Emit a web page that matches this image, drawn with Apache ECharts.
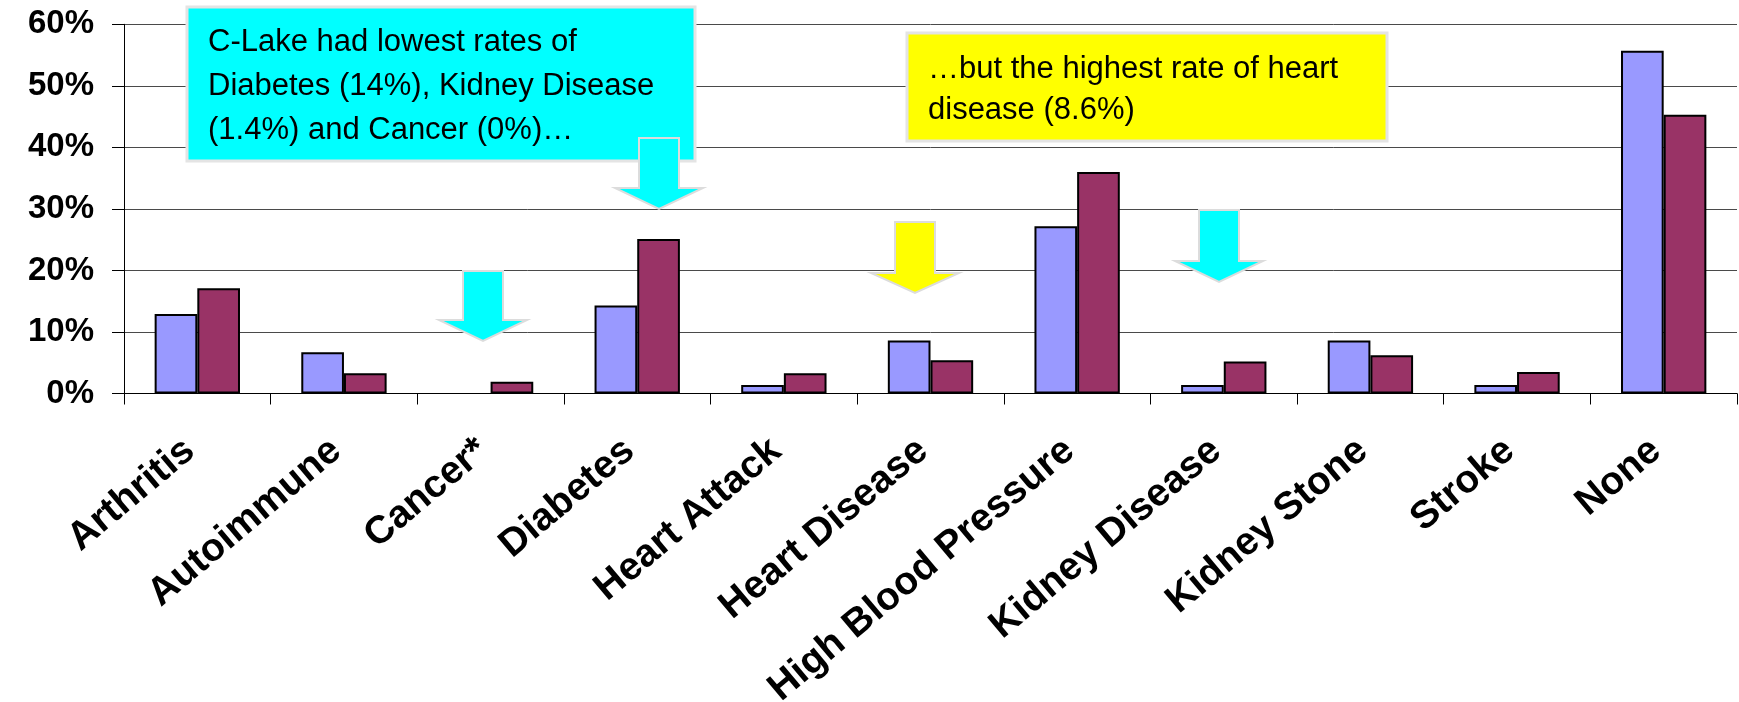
<!DOCTYPE html>
<html>
<head>
<meta charset="utf-8">
<title>Health conditions by group</title>
<script src="https://cdn.jsdelivr.net/npm/echarts@6/dist/echarts.min.js"></script>
<style>
  html, body { margin: 0; padding: 0; background: #ffffff; }
  #chart { width: 1739px; height: 702px; }
</style>
</head>
<body>
<div id="chart"></div>
<script>
// Conditions along the x axis
const categories = ['Arthritis', 'Autoimmune', 'Cancer*', 'Diabetes', 'Heart Attack',
  'Heart Disease', 'High Blood Pressure', 'Kidney Disease', 'Kidney Stone', 'Stroke', 'None'];

// Percent of respondents reporting each condition
const cLakeValues = [12.9, 6.7, 0, 14.3, 1.4, 8.6, 27.2, 1.4, 8.6, 1.4, 55.7];
const comparisonValues = [17.1, 3.3, 1.9, 25.1, 3.3, 5.4, 36.0, 5.2, 6.2, 3.5, 45.3];

// Value axis ticks
const yTicks = [0, 10, 20, 30, 40, 50, 60];

// Callout texts
const lowNote = ['C-Lake had lowest rates of', 'Diabetes (14%), Kidney Disease', '(1.4%) and Cancer (0%)\u2026'];
const highNote = ['\u2026but the highest rate of heart', 'disease (8.6%)'];

const chart = echarts.init(document.getElementById('chart'), null, { renderer: 'canvas' });

// Zero-height bars get no outline so nothing shows above the axis
function barData(values) {
  return values.map(v => (v === 0 ? { value: v, itemStyle: { borderWidth: 0 } } : v));
}

// Down-pointing block arrow: shaft from top to head base, triangular head to tip
function arrow(cx, top, base, tip, fill) {
  const sw = 20, hw = 44;
  return {
    type: 'polygon',
    z: 100,
    shape: {
      points: [
        [cx - sw, top], [cx + sw, top], [cx + sw, base], [cx + hw, base],
        [cx, tip], [cx - hw, base], [cx - sw, base]
      ]
    },
    style: { fill: fill, stroke: '#dcdcdc', lineWidth: 2 }
  };
}

function callout(x, y, w, h, fill, lines, textTop, lineHeight) {
  return [
    {
      type: 'rect', z: 90,
      shape: { x: x, y: y, width: w, height: h },
      style: { fill: fill, stroke: '#e4e4e4', lineWidth: 3 }
    },
    {
      type: 'text', z: 95,
      x: x + 21, y: textTop,
      style: {
        text: lines.join('\n'),
        font: '31px "Liberation Sans", Arial, sans-serif',
        fill: '#000000',
        lineHeight: lineHeight,
        verticalAlign: 'top',
        align: 'left'
      }
    }
  ];
}

const option = {
  animation: false,
  backgroundColor: '#ffffff',
  grid: {
    left: 124, right: 2, top: 24.3, bottom: 308.5,
    containLabel: false,
    outerBoundsMode: 'none'
  },
  xAxis: {
    type: 'category',
    data: categories,
    boundaryGap: true,
    axisLine: { show: true, lineStyle: { color: '#000000', width: 1 } },
    axisTick: { show: true, length: 11, inside: false, alignWithLabel: false, lineStyle: { color: '#000000' } },
    axisLabel: {
      interval: 0,
      rotate: 40,
      margin: 46,
      padding: [0, 10, 0, 0],
      color: '#000000',
      fontFamily: '"Liberation Sans", Arial, sans-serif',
      fontWeight: 'bold',
      fontSize: 39
    },
    splitLine: { show: false }
  },
  yAxis: {
    type: 'value',
    min: yTicks[0],
    max: yTicks[yTicks.length - 1],
    interval: yTicks[1] - yTicks[0],
    axisLine: { show: true, lineStyle: { color: '#000000', width: 1 } },
    axisTick: { show: true, length: 12, lineStyle: { color: '#000000' } },
    axisLabel: {
      margin: 30,
      formatter: '{value}%',
      color: '#000000',
      fontFamily: '"Liberation Sans", Arial, sans-serif',
      fontWeight: 'bold',
      fontSize: 33
    },
    splitLine: { show: true, lineStyle: { color: '#4a4a4a', width: 1 } }
  },
  series: [
    {
      name: 'C-Lake',
      type: 'bar',
      data: barData(cLakeValues),
      barGap: '0%',
      barCategoryGap: '41.8%',
      itemStyle: { color: '#9999ff', borderColor: '#000000', borderWidth: 2 }
    },
    {
      name: 'Comparison',
      type: 'bar',
      data: barData(comparisonValues),
      itemStyle: { color: '#993366', borderColor: '#000000', borderWidth: 2 }
    }
  ],
  graphic: [
    ...callout(187, 7, 508, 154, '#00ffff', lowNote, 21, 43.7),
    ...callout(907, 33, 480, 108, '#ffff00', highNote, 49, 41),
    arrow(659, 138, 188, 209, '#00ffff'),
    arrow(483, 271, 320, 341, '#00ffff'),
    arrow(915, 222, 273, 293, '#ffff00'),
    arrow(1219, 210, 261, 282, '#00ffff')
  ]
};

chart.setOption(option);
</script>
</body>
</html>
